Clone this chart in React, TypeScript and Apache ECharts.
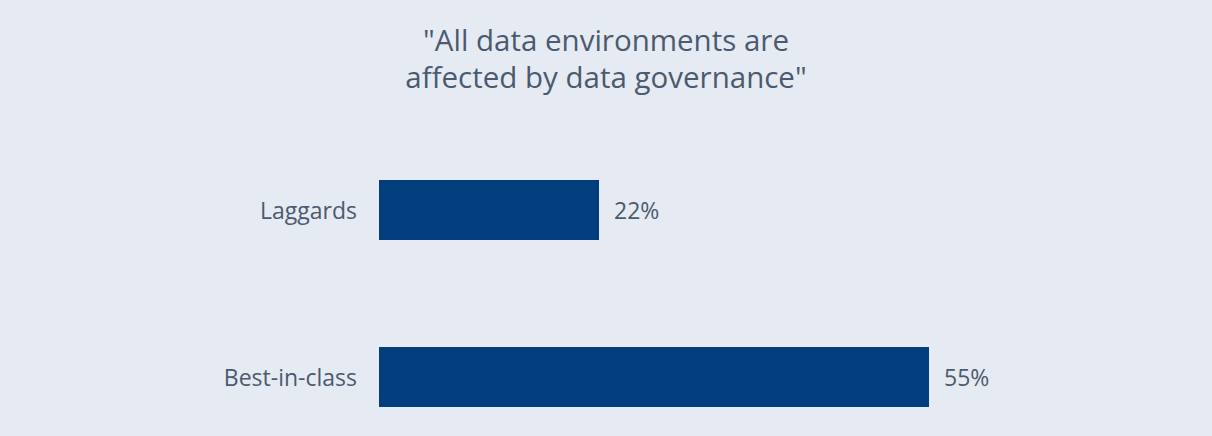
import React, { useEffect, useRef } from "react";
import * as echarts from "echarts";

const categories = ["Laggards", "Best-in-class"];
const values = [22, 55];
const titleLines = ['"All data environments are', 'affected by data governance"'];

export default function App() {
  const ref = useRef<HTMLDivElement>(null);
  useEffect(() => {
    document.body.style.margin = "0";
    const chart = echarts.init(ref.current!, null, { renderer: "svg" });
    chart.setOption({
      animation: false,
      backgroundColor: "#e6ebf3",
      title: {
        text: titleLines.join("\n"),
        left: "center",
        top: 16,
        textStyle: {
          fontFamily: "Open Sans",
          fontSize: 29.5,
          fontWeight: "normal",
          color: "#4b5a6e",
          lineHeight: 37,
        },
      },
      grid: { left: 379, width: 800, top: 210, bottom: 59 },
      xAxis: { type: "value", min: 0, max: 80, show: false },
      yAxis: {
        type: "category",
        data: categories,
        inverse: true,
        boundaryGap: false,
        axisLine: { show: false },
        axisTick: { show: false },
        splitLine: { show: false },
        axisLabel: { margin: 22, fontFamily: "Open Sans", fontSize: 23, color: "#4b5a6e" },
      },
      series: [
        {
          type: "bar",
          data: values,
          barWidth: 60,
          itemStyle: { color: "#023e7d" },
          label: {
            show: true,
            position: "right",
            distance: 15,
            formatter: "{c}%",
            fontFamily: "Open Sans",
            fontSize: 23,
            color: "#4b5a6e",
          },
        },
      ],
    });
    return () => chart.dispose();
  }, []);
  return <div ref={ref} style={{ width: 1212, height: 436 }} />;
}
